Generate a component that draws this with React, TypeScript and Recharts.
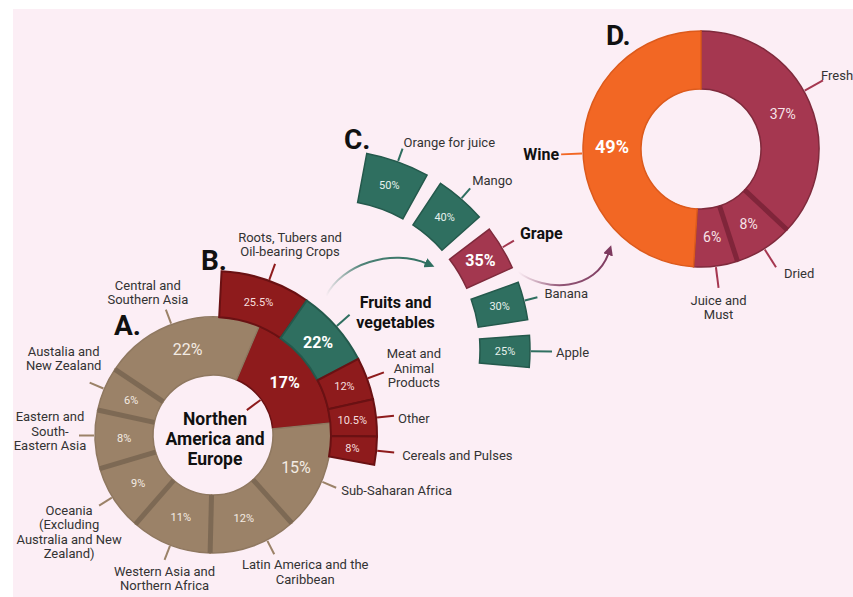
import React from 'react';
import { PieChart, Pie, Cell, Customized } from 'recharts';

// A. share of food loss by region
const regionNames = [
  'Northen America and Europe',
  'Sub-Saharan Africa',
  'Latin America and the Caribbean',
  'Western Asia and Northern Africa',
  'Oceania (Excluding Australia and New Zealand)',
  'Eastern and South-Eastern Asia',
  'Austalia and New Zealand',
  'Central and Southern Asia',
];
const regionShares = [17, 15, 12, 11, 9, 8, 6, 22];

// B. food groups in Northern America and Europe
const groupNames = [
  'Roots, Tubers and Oil-bearing Crops',
  'Fruits and vegetables',
  'Meat and Animal Products',
  'Other',
  'Cereals and Pulses',
];
const groupShares = [25.5, 22, 12, 10.5, 8];

// C. fruits
const fruitNames = ['Orange for juice', 'Mango', 'Grape', 'Banana', 'Apple'];
const fruitShares = [50, 40, 35, 30, 25];

// D. grape uses
const grapeUses = ['Fresh', 'Dried', 'Juice and Must', 'Wine'];
const grapeShares = [37, 8, 6, 49];

const RAD = Math.PI / 180;
const FONT = 'Roboto, sans-serif';

const tan = '#9b8268';
const tanDark = '#7d6954';
const red = '#8e1b1c';
const redDark = '#6a1113';
const green = '#2f6f60';
const greenDark = '#24594c';
const grape = '#a3374f';
const rose = '#a53750';
const roseDark = '#80253a';
const orange = '#f26724';
const orangeDark = '#dc5a1c';

type Note = {
  lines: string[];
  dx: number;
  dy: number;
  anchor: 'start' | 'middle' | 'end';
  da?: number;
  bold?: boolean;
  size?: number;
  r2?: number;
  center?: boolean;
};

type Ring = {
  notes: Note[];
  values: number[];
  fills: string[];
  lead: [number, number];
  valueR: number;
  valueSize: number[];
  valueBold: boolean[];
  valueColor: string;
  seps?: boolean[];
  sepColor?: string;
};

const polar = (cx: number, cy: number, r: number, a: number) => [
  cx + r * Math.cos(-a * RAD),
  cy + r * Math.sin(-a * RAD),
];

const regionNotes: Note[] = [
  { lines: ['Northen', 'America and', 'Europe'], dx: 2, dy: -16, anchor: 'middle', bold: true, size: 17.5, center: true },
  { lines: ['Sub-Saharan Africa'], dx: 5, dy: 2, anchor: 'start', da: 2 },
  { lines: ['Latin America and the', 'Caribbean'], dx: 31, dy: 10, anchor: 'middle', da: -7 },
  { lines: ['Western Asia and', 'Northern Africa'], dx: 0, dy: 11, anchor: 'middle' },
  { lines: ['Oceania', '(Excluding', 'Australia and New', 'Zealand)'], dx: -30, dy: 4, anchor: 'middle', da: 1 },
  { lines: ['Eastern and', 'South-', 'Eastern Asia'], dx: -29, dy: -19, anchor: 'middle', da: 2 },
  { lines: ['Austalia and', 'New Zealand'], dx: -26, dy: -32, anchor: 'middle' },
  { lines: ['Central and', 'Southern Asia'], dx: -18, dy: -25, anchor: 'middle', da: -4 },
];

const groupNotes: Note[] = [
  { lines: ['Roots, Tubers and', 'Oil-bearing Crops'], dx: 15, dy: -27, anchor: 'middle', da: 1 },
  { lines: ['Fruits and', 'vegetables'], dx: 46, dy: -13, anchor: 'middle', bold: true, size: 16 },
  { lines: ['Meat and', 'Animal', 'Products'], dx: 30, dy: -19, anchor: 'middle' },
  { lines: ['Other'], dx: 4, dy: 2, anchor: 'start' },
  { lines: ['Cereals and Pulses'], dx: 8, dy: 3, anchor: 'start' },
];

const fruitNotes: Note[] = [
  { lines: ['Orange for juice'], dx: 1, dy: -7, anchor: 'start' },
  { lines: ['Mango'], dx: 2, dy: -8, anchor: 'start' },
  { lines: ['Grape'], dx: 6, dy: -8, anchor: 'start', bold: true, size: 16 },
  { lines: ['Banana'], dx: 7, dy: -4, anchor: 'start' },
  { lines: ['Apple'], dx: 4, dy: 0, anchor: 'start', r2: 222 },
];

const grapeNotes: Note[] = [
  { lines: ['Fresh'], dx: -2, dy: -5, anchor: 'start', da: -6 },
  { lines: ['Dried'], dx: 8, dy: 6, anchor: 'start' },
  { lines: ['Juice and', 'Must'], dx: 0, dy: 12, anchor: 'middle' },
  { lines: ['Wine'], dx: -2, dy: 0, anchor: 'end', da: -4, bold: true, size: 16 },
];

const ringA: Ring = {
  notes: regionNotes,
  values: regionShares,
  fills: [red, tan, tan, tan, tan, tan, tan, tan],
  lead: [119, 134],
  valueR: 89,
  valueSize: [16, 16, 11, 11, 11, 11, 11, 16],
  valueBold: [true, false, false, false, false, false, false, false],
  valueColor: '#f3ebe3',
  seps: [false, false, true, true, true, true, true, true],
  sepColor: tanDark,
};

const ringB: Ring = {
  notes: groupNotes,
  values: groupShares,
  fills: [red, green, red, red, red],
  lead: [165, 182],
  valueR: 140,
  valueSize: [11, 16, 11, 11, 11],
  valueBold: [false, true, false, false, false],
  valueColor: '#f5dede',
};

const ringC: Ring = {
  notes: fruitNotes,
  values: fruitShares,
  fills: [green, green, grape, green, green],
  lead: [201, 214],
  valueR: 175,
  valueSize: [11, 11, 16, 11, 11],
  valueBold: [false, false, true, false, false],
  valueColor: '#e6f1ed',
};

const ringD: Ring = {
  notes: grapeNotes,
  values: grapeShares,
  fills: [rose, rose, rose, orange],
  lead: [119, 140],
  valueR: 89,
  valueSize: [14, 14, 14, 18],
  valueBold: [false, false, false, true],
  valueColor: '#f7e3e8',
  seps: [false, true, true, false],
  sepColor: roseDark,
};

function NoteText({ x, y, note }: { x: number; y: number; note: Note }) {
  const lh = note.bold ? 20 : 14.5;
  const tx = x + note.dx;
  return (
    <text
      x={tx}
      y={y + note.dy}
      textAnchor={note.anchor}
      dominantBaseline="central"
      fontSize={note.size ?? 13}
      fontWeight={note.bold ? 700 : 400}
      fill={note.bold ? '#111' : '#333'}
      fontFamily={FONT}
    >
      {note.lines.map((l, k) => (
        <tspan key={k} x={tx} dy={k === 0 ? 0 : lh}>
          {l}
        </tspan>
      ))}
    </text>
  );
}

const ringLabel = (ring: Ring) => (p: any) => {
  const { cx, cy, midAngle, innerRadius, outerRadius, startAngle, index } = p;
  const note = ring.notes[index];
  const color = ring.fills[index];
  const a = midAngle - (note.da ?? 0);
  let line;
  let textPos;
  if (note.center) {
    const [x1, y1] = polar(cx, cy, innerRadius - 1, midAngle);
    const [x2, y2] = polar(cx, cy, innerRadius - 18, midAngle);
    line = <line x1={x1} y1={y1} x2={x2} y2={y2} stroke={color} strokeWidth={2} />;
    textPos = [cx, cy];
  } else {
    const [x1, y1] = polar(cx, cy, ring.lead[0], a);
    const [x2, y2] = polar(cx, cy, note.r2 ?? ring.lead[1], a);
    line = <line x1={x1} y1={y1} x2={x2} y2={y2} stroke={color} strokeWidth={2} />;
    textPos = [x2, y2];
  }
  const [vx, vy] = polar(cx, cy, ring.valueR, midAngle);
  let sep = null;
  if (ring.seps && ring.seps[index]) {
    const [s1x, s1y] = polar(cx, cy, innerRadius, startAngle);
    const [s2x, s2y] = polar(cx, cy, outerRadius, startAngle);
    sep = <line x1={s1x} y1={s1y} x2={s2x} y2={s2y} stroke={ring.sepColor} strokeWidth={5} />;
  }
  const bold = ring.valueBold[index];
  return (
    <g>
      {sep}
      {line}
      <text
        x={vx}
        y={vy}
        textAnchor="middle"
        dominantBaseline="central"
        fontSize={ring.valueSize[index]}
        fontWeight={bold ? 700 : 400}
        fill={bold ? '#ffffff' : ring.valueColor}
        fontFamily={FONT}
      >
        {ring.values[index]}%
      </text>
      <NoteText x={textPos[0]} y={textPos[1]} note={note} />
    </g>
  );
};

const toRows = (names: string[], values: number[]) => names.map((name, i) => ({ name, value: values[i] }));

const regionData = toRows(regionNames, regionShares);
const groupData = toRows(groupNames, groupShares);
const fruitData = toRows(fruitNames, fruitShares);
const grapeData = toRows(grapeUses, grapeShares);

const strokeOf = (fill: string) =>
  fill === tan ? '#8f7860' : fill === red ? redDark : fill === green ? greenDark : fill === orange ? orangeDark : '#7f2a3c';

function Decor() {
  return (
    <g>
      <defs>
        <linearGradient id="arrowG" gradientUnits="userSpaceOnUse" x1="326" y1="296" x2="430" y2="265">
          <stop offset="0" stopColor={green} stopOpacity="0" />
          <stop offset="0.4" stopColor={green} stopOpacity="0.85" />
          <stop offset="1" stopColor={green} />
        </linearGradient>
        <linearGradient id="arrowP" gradientUnits="userSpaceOnUse" x1="518" y1="272" x2="610" y2="250">
          <stop offset="0" stopColor="#7e3a5f" stopOpacity="0" />
          <stop offset="0.4" stopColor="#7e3a5f" stopOpacity="0.85" />
          <stop offset="1" stopColor="#7e3a5f" />
        </linearGradient>
        <marker id="headG" viewBox="0 0 10 10" refX="3" refY="5" markerWidth="10" markerHeight="10" markerUnits="userSpaceOnUse" orient="auto">
          <path d="M0,0 L10,5 L0,10 z" fill={green} />
        </marker>
        <marker id="headP" viewBox="0 0 10 10" refX="3" refY="5" markerWidth="10" markerHeight="10" markerUnits="userSpaceOnUse" orient="auto">
          <path d="M0,0 L10,5 L0,10 z" fill="#7e3a5f" />
        </marker>
      </defs>
      <path d="M326 296 C 342 264, 392 248, 428 264" fill="none" stroke="url(#arrowG)" strokeWidth={2} markerEnd="url(#headG)" />
      <path d="M518 272 C 545 292, 596 292, 609 252" fill="none" stroke="url(#arrowP)" strokeWidth={2} markerEnd="url(#headP)" />
      <g fontFamily={FONT} fontWeight={700} fontSize={28} fill="#111">
        <text x={114} y={335}>A.</text>
        <text x={201} y={270}>B.</text>
        <text x={344} y={149}>C.</text>
        <text x={606} y={45}>D.</text>
      </g>
    </g>
  );
}

export default function App() {
  return (
    <div style={{ position: 'absolute', left: 0, top: 0, width: 853, height: 597, background: '#ffffff', overflow: 'hidden' }}>
      <div style={{ position: 'absolute', left: 13, top: 9, right: 0, bottom: 0, background: '#fceef5' }} />
      <div style={{ position: 'absolute', left: 0, top: 0 }}>
        <PieChart width={853} height={597} margin={{ top: 0, right: 0, bottom: 0, left: 0 }}>
          <Pie
            data={regionData}
            dataKey="value"
            nameKey="name"
            cx={213}
            cy={435}
            innerRadius={60}
            outerRadius={118}
            startAngle={67}
            endAngle={-293}
            label={ringLabel(ringA)}
            labelLine={false}
            isAnimationActive={false}
          >
            {regionData.map((d, i) => (
              <Cell key={d.name} fill={ringA.fills[i]} stroke={strokeOf(ringA.fills[i])} strokeWidth={1.5} />
            ))}
          </Pie>
          <Pie
            data={groupData}
            dataKey="value"
            nameKey="name"
            cx={213}
            cy={435}
            innerRadius={118}
            outerRadius={164}
            startAngle={87}
            endAngle={-10.5}
            label={ringLabel(ringB)}
            labelLine={false}
            isAnimationActive={false}
          >
            {groupData.map((d, i) => (
              <Cell key={d.name} fill={ringB.fills[i]} stroke={strokeOf(ringB.fills[i])} strokeWidth={2} />
            ))}
          </Pie>
          <Pie
            data={fruitData}
            dataKey="value"
            nameKey="name"
            cx={330}
            cy={350}
            innerRadius={150}
            outerRadius={200}
            startAngle={79.4}
            endAngle={-5}
            paddingAngle={4.5}
            label={ringLabel(ringC)}
            labelLine={false}
            isAnimationActive={false}
          >
            {fruitData.map((d, i) => (
              <Cell key={d.name} fill={ringC.fills[i]} stroke={strokeOf(ringC.fills[i])} strokeWidth={1.5} />
            ))}
          </Pie>
          <Pie
            data={grapeData}
            dataKey="value"
            nameKey="name"
            cx={701}
            cy={149}
            innerRadius={60}
            outerRadius={118}
            startAngle={90}
            endAngle={-270}
            label={ringLabel(ringD)}
            labelLine={false}
            isAnimationActive={false}
          >
            {grapeData.map((d, i) => (
              <Cell key={d.name} fill={ringD.fills[i]} stroke={strokeOf(ringD.fills[i])} strokeWidth={1.5} />
            ))}
          </Pie>
          <Customized component={Decor} />
        </PieChart>
      </div>
    </div>
  );
}
